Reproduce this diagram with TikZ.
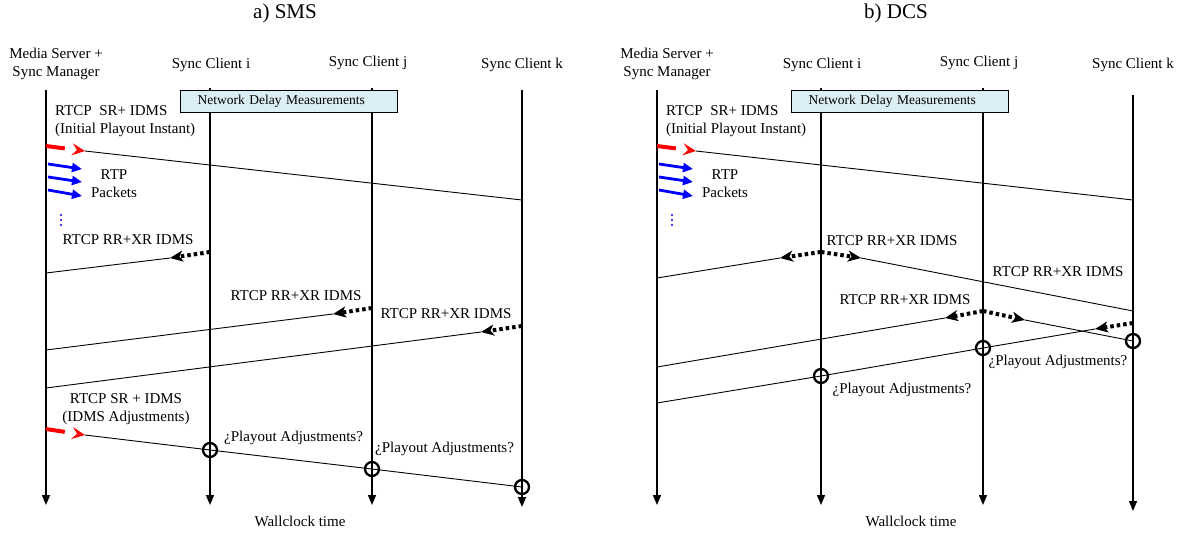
\documentclass[tikz,border=0pt]{standalone}
\usepackage{fontspec}
\setmainfont{Liberation Serif}
\usetikzlibrary{arrows.meta}
\definecolor{ndmfill}{HTML}{DAEEF3}
\tikzset{
  lbl/.style={font=\fontsize{15}{18}\selectfont, inner sep=0pt, align=center},
  ttl/.style={font=\fontsize{21}{25}\selectfont, inner sep=0pt},
  lifeline/.style={line width=1.5pt, -{Triangle[length=10pt,width=8pt]}},
  msg/.style={line width=0.9pt},
  rtcpfb/.style={line width=4pt, dash pattern=on 3.5pt off 3pt, -{Stealth[length=13pt,width=11pt,inset=3.5pt]}},
  srsend/.style={red, line width=4pt, dash pattern=on 19pt off 40pt, -{Stealth[length=13pt,width=12pt,inset=5pt]}},
  rtp/.style={blue, line width=2.8pt, -{Triangle[length=10pt,width=9pt]}},
  adjmark/.style={circle, draw, line width=2.3pt, minimum size=14pt, inner sep=0pt},
  ndm/.style={draw, fill=ndmfill, line width=1.2pt, inner xsep=17pt, inner ysep=0pt,
    text width=183pt, minimum height=22pt, align=left, anchor=north west,
    font=\fontsize{13.5}{16}\selectfont},
}
% Parts shared by both panels: #1 prefix, #2 horizontal shift,
% #3/#4 top and end of the client k lifeline, #5 panel title
\newcommand\panelbase[5]{%
\begin{scope}[xshift=#2pt]
  \node[ttl] (#1-title) at (285,13) {#5};
  \node[lbl] (#1-hms) at (56,64) {Media Server +\\Sync Manager};
  \node[lbl] (#1-hi) at (211,65) {Sync Client i};
  \node[lbl] (#1-hj) at (368,63) {Sync Client j};
  \node[lbl] (#1-hk) at (522,65) {Sync Client k};
  % lifelines
  \coordinate (#1-ms0) at (46,90);  \coordinate (#1-ms1) at (46,505);
  \coordinate (#1-i0) at (210,88);  \coordinate (#1-i1) at (210,505);
  \coordinate (#1-j0) at (372,88);  \coordinate (#1-j1) at (372,505);
  \coordinate (#1-k0) at (522,#3);  \coordinate (#1-k1) at (522,#4);
  \draw[lifeline] (#1-ms0) -- (#1-ms1);
  \draw[lifeline] (#1-i0) -- (#1-i1);
  \draw[lifeline] (#1-j0) -- (#1-j1);
  \draw[lifeline] (#1-k0) -- (#1-k1);
  \node[ndm] (#1-ndm) at (180,90) {Network Delay Measurements};
  % initial playout instant
  \node[lbl, anchor=west, align=left] (#1-sr) at (55,121) {RTCP\ \ SR+ IDMS\\(Initial Playout Instant)};
  \coordinate (#1-sr0) at (46,146); \coordinate (#1-sr1) at (85,151); \coordinate (#1-srk) at (522,200);
  \draw[srsend] (#1-sr0) -- (#1-sr1);
  \draw[msg] (#1-sr1) -- (#1-srk);
  % media packets
  \coordinate (#1-p1s) at (48,164); \coordinate (#1-p1e) at (82,169);
  \coordinate (#1-p2s) at (48,177); \coordinate (#1-p2e) at (82,182);
  \coordinate (#1-p3s) at (48,190); \coordinate (#1-p3e) at (82,196);
  \draw[rtp] (#1-p1s) -- (#1-p1e);
  \draw[rtp] (#1-p2s) -- (#1-p2e);
  \draw[rtp] (#1-p3s) -- (#1-p3e);
  \node[lbl] (#1-rtp) at (114,184) {RTP\\Packets};
  \foreach \yy in {215,220,225} \fill[blue] (61,\yy) circle (1.2pt);
  \node[lbl] (#1-wc) at (300,521) {Wallclock time};
\end{scope}}

\begin{document}
\begin{tikzpicture}[x=1pt, y=-1pt]
\useasboundingbox (0,0) rectangle (1188,533);
\fill[white] (0,0) rectangle (1188,533);

\panelbase{a}{0}{90}{507}{a) SMS}
\panelbase{b}{611}{95}{511}{b) DCS}

% ---- a) SMS: clients report to the manager, manager sends adjustments
\node[lbl] (a-l1) at (128,240) {RTCP RR+XR IDMS};
\coordinate (a-f1s) at (210,252); \coordinate (a-f1t) at (170,258); \coordinate (a-f1e) at (46,273);
\draw[rtcpfb] (a-f1s) -- (a-f1t); \draw[msg] (a-f1t) -- (a-f1e);

\node[lbl] (a-l2) at (296,296) {RTCP RR+XR IDMS};
\coordinate (a-f2s) at (372,308); \coordinate (a-f2t) at (333,314); \coordinate (a-f2e) at (46,350);
\draw[rtcpfb] (a-f2s) -- (a-f2t); \draw[msg] (a-f2t) -- (a-f2e);

\node[lbl] (a-l3) at (446,314) {RTCP RR+XR IDMS};
\coordinate (a-f3s) at (522,326); \coordinate (a-f3t) at (481,332); \coordinate (a-f3e) at (46,388);
\draw[rtcpfb] (a-f3s) -- (a-f3t); \draw[msg] (a-f3t) -- (a-f3e);

\node[lbl] (a-l4) at (126,409) {RTCP SR + IDMS\\(IDMS Adjustments)};
\coordinate (a-adj0) at (46,429); \coordinate (a-adj1) at (85,435);
\draw[srsend] (a-adj0) -- (a-adj1);
\node[adjmark] (a-ci) at (210,450) {};
\node[adjmark] (a-cj) at (372,469) {};
\node[adjmark] (a-ck) at (522,487) {};
\draw[msg] (a-adj1) -- (a-ci.center) -- (a-cj.center) -- (a-ck.center);
\node[lbl, anchor=west] (a-q1) at (224,438) {¿Playout Adjustments?};
\node[lbl, anchor=west] (a-q2) at (375,449) {¿Playout Adjustments?};

% ---- b) DCS: clients exchange reports with every peer
\begin{scope}[xshift=611pt]
\node[lbl] (b-l1) at (281,241) {RTCP RR+XR IDMS};
\coordinate (b-f1s) at (210,252); \coordinate (b-f1l) at (169,258); \coordinate (b-f1r) at (250,258);
\coordinate (b-f1ms) at (46,278); \coordinate (b-f1k) at (522,311);
\draw[rtcpfb] (b-f1s) -- (b-f1l); \draw[rtcpfb] (b-f1s) -- (b-f1r);
\draw[msg] (b-f1l) -- (b-f1ms); \draw[msg] (b-f1r) -- (b-f1k);

\node[lbl] (b-l2) at (447,272) {RTCP RR+XR IDMS};
\node[lbl] (b-l3) at (294,300) {RTCP RR+XR IDMS};
\node[adjmark] (b-ck) at (522,341) {};
\node[adjmark] (b-cj) at (372,348) {};
\node[adjmark] (b-ci) at (210,376) {};
\coordinate (b-f2s) at (372,311); \coordinate (b-f2l) at (334,318); \coordinate (b-f2r) at (414,320);
\coordinate (b-f2ms) at (46,367);
\draw[rtcpfb] (b-f2s) -- (b-f2l); \draw[rtcpfb] (b-f2s) -- (b-f2r);
\draw[msg] (b-f2l) -- (b-f2ms); \draw[msg] (b-f2r) -- (b-ck.center);

\coordinate (b-f3s) at (522,323); \coordinate (b-f3t) at (484,329); \coordinate (b-f3ms) at (46,403);
\draw[rtcpfb] (b-f3s) -- (b-f3t);
\draw[msg] (b-f3t) -- (b-cj.center) -- (b-ci.center) -- (b-f3ms);

\node[lbl] (b-q1) at (447,362) {¿Playout Adjustments?};
\node[lbl] (b-q2) at (291,390) {¿Playout Adjustments?};
\end{scope}
\end{tikzpicture}
\end{document}
